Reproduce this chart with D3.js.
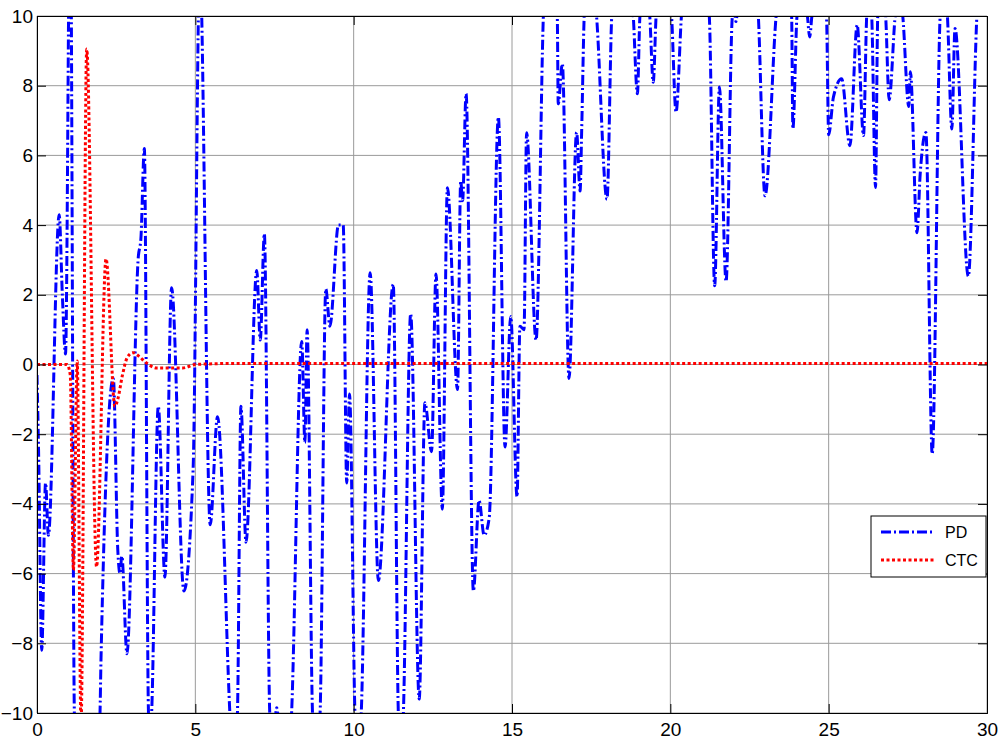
<!DOCTYPE html>
<html>
<head>
<meta charset="utf-8">
<script src="https://cdn.jsdelivr.net/npm/d3@7"></script>
<style>
    body { margin: 0; background: #fff; }
    text { font-family: "Liberation Sans", Arial, sans-serif; }
</style>
</head>
<body>
<div id="chart"></div>
<script>
// PD response (values past +/-10 are clipped)
const pdX = [0, 0.05, 0.15, 0.27, 0.36, 0.70, 0.80, 0.90, 1.05, 1.18, 1.55, 1.99, 2.02, 2.41, 2.55, 2.62, 2.68, 2.84,
    3.20, 3.28, 3.39, 3.52, 3.57, 3.62, 3.83, 4.04, 4.25, 4.64, 4.93, 5.14, 5.47, 5.70, 6.09, 6.20, 6.33, 6.44,
    6.60, 6.94, 7.05, 7.18, 7.35, 7.45, 7.57, 7.80, 8.04, 8.36, 8.46, 8.53, 8.70, 8.82, 8.94, 9.12, 9.25, 9.52,
    9.67, 9.78, 9.87, 10.04, 10.14, 10.24, 10.52, 10.78, 11.25, 11.41, 11.50, 11.57, 11.80, 12.07, 12.25, 12.46,
    12.60, 12.80, 12.96, 13.28, 13.38, 13.44, 13.55, 13.78, 13.96, 14.12, 14.28, 14.57, 14.78, 14.96, 15.16,
    15.25, 15.38, 15.46, 15.76, 15.99, 16.20, 16.43, 16.46, 16.59, 16.80, 17.04, 17.15, 17.20, 17.28, 17.45,
    17.67, 18.00, 18.15, 18.50, 18.83, 18.96, 19.04, 19.20, 19.35, 19.46, 19.55, 19.80, 20.04, 20.18, 20.35,
    20.80, 21.23, 21.40, 21.55, 21.76, 21.96, 22.02, 22.07, 22.15, 22.50, 22.78, 22.99, 23.34, 23.60, 23.83,
    23.87, 24.00, 24.20, 24.33, 24.40, 24.47, 24.70, 24.93, 25.00, 25.15, 25.41, 25.67, 25.90, 26.10, 26.20,
    26.28, 26.36, 26.48, 26.55, 26.68, 26.80, 26.91, 27.10, 27.22, 27.34, 27.53, 27.58, 27.79, 27.89, 28.07,
    28.27, 28.52, 28.63, 28.75, 28.89, 28.99, 29.41, 29.68, 30];
const pdY = [-0.3, -2.5, -8.2, -3.4, -4.9, 4.3, 2.0, 0.3, 14, -10, -18, -10, -8.5, -0.4, -5.3, -6.0, -5.5, -8.3,
    3.1, 3.6, 6.2, -10, -10.8, -10, -1.2, -6.1, 2.2, -6.5, -3.0, 11.5, -4.6, -1.5, -10, -12, -10, -1.2,
    -5.1, 2.7, 0.7, 3.75, -10, -11, -9.85, -13, -10, 0.66, -2.24, 1.0, -10, -11.5, -10, 2.17, 1.1, 4.0,
    4.0, -3.4, -0.85, -10, -11.5, -10, 2.63, -6.2, 2.3, -10, -11.5, -10, 1.45, -9.6, -1.1, -2.5,
    2.6, -4.15, 5.07, -0.72, 5.27, 4.7, 7.77, -6.5, -3.9, -4.9, -4.4, 7.1, -2.37, 1.38, -3.8,
    1.1, 1.0, 6.65, 0.7, 10, 13, 10, 7.48, 8.63, -0.4, 6.66, 4.98, 6.7, 10, 12,
    10, 4.74, 10, 13, 10, 7.77, 10, 11, 10, 8.1, 10, 12, 10, 7.24, 10,
    13, 10, 2.26, 7.96, 2.38, 10, 10.2, 9.84, 10.5, 13, 10, 4.84, 10, 12, 10,
    6.76, 10, 11, 10, 9.4, 10, 11, 10, 6.59, 7.67, 8.2, 6.28, 9.74, 6.57, 10,
    10.8, 10, 5.08, 10, 11, 10, 7.6, 10, 10.8, 10, 7.4, 8.4, 3.78, 5.46, 6.66,
    -2.57, 10, 11, 10, 6.76, 9.64, 2.53, 10, 13];

// CTC response
const ctcX = [0, 0.95, 1.05, 1.15, 1.27, 1.39, 1.57, 1.88, 2.18, 2.46, 2.55, 2.70, 2.85, 3.03, 3.20, 3.45, 3.78,
    4.60, 5.00, 6.20, 30];
const ctcY = [0, 0, -0.3, -5.9, 0.1, -10.3, 9.05, -5.8, 3.03, -1.2, -1.0, -0.3, 0.2, 0.34, 0.25, 0.05, -0.1,
    -0.1, 0, 0.03, 0.03];

const xTicks = [0, 5, 10, 15, 20, 25, 30];
const yTicks = [-10, -8, -6, -4, -2, 0, 2, 4, 6, 8, 10];
const seriesNames = ['PD', 'CTC'];

const width = 998;
const height = 740;
const margin = { top: 16, right: 11, bottom: 27, left: 37 };
const innerW = width - margin.left - margin.right;
const innerH = height - margin.top - margin.bottom;

const svg = d3.select('#chart')
    .append('svg')
    .attr('width', width)
    .attr('height', height);

const g = svg.append('g')
    .attr('transform', `translate(${margin.left}, ${margin.top})`);

const x = d3.scaleLinear().domain([0, 30]).range([0, innerW]);
const y = d3.scaleLinear().domain([-10, 10]).range([innerH, 0]);

// Grid
g.append('g')
    .selectAll('line')
    .data(xTicks)
    .enter()
    .append('line')
    .attr('x1', d => x(d)).attr('x2', d => x(d))
    .attr('y1', 0).attr('y2', innerH)
    .style('stroke', '#9a9a9a')
    .style('stroke-width', '1px');

g.append('g')
    .selectAll('line')
    .data(yTicks)
    .enter()
    .append('line')
    .attr('x1', 0).attr('x2', innerW)
    .attr('y1', d => y(d)).attr('y2', d => y(d))
    .style('stroke', '#9a9a9a')
    .style('stroke-width', '1px');

// Clip lines to the axes box
svg.append('defs')
    .append('clipPath')
    .attr('id', 'plot-clip')
    .append('rect')
    .attr('width', innerW)
    .attr('height', innerH);

const line = d3.line()
    .x(d => x(d[0]))
    .y(d => y(d[1]))
    .curve(d3.curveMonotoneX);

const pdData = pdX.map((v, i) => [v, pdY[i]]);
const ctcData = ctcX.map((v, i) => [v, ctcY[i]]);

const lines = g.append('g').attr('clip-path', 'url(#plot-clip)');

lines.append('path')
    .datum(pdData)
    .attr('d', line)
    .style('fill', 'none')
    .style('stroke', '#0000ff')
    .style('stroke-width', '3px')
    .style('stroke-dasharray', '10,3,2,3');

lines.append('path')
    .datum(ctcData)
    .attr('d', line)
    .style('fill', 'none')
    .style('stroke', '#ff0000')
    .style('stroke-width', '3px')
    .style('stroke-dasharray', '3,2.5');

// Axes (ticks inside, box on)
const tickLen = 9;
g.append('g')
    .attr('transform', `translate(0, ${innerH})`)
    .call(d3.axisBottom(x).tickValues(xTicks).tickSize(-tickLen).tickPadding(10));
g.append('g')
    .call(d3.axisTop(x).tickValues(xTicks).tickSize(-tickLen).tickFormat(''));
g.append('g')
    .call(d3.axisLeft(y).tickValues(yTicks).tickSize(-tickLen).tickPadding(4));
g.append('g')
    .attr('transform', `translate(${innerW}, 0)`)
    .call(d3.axisRight(y).tickValues(yTicks).tickSize(-tickLen).tickFormat(''));

g.selectAll('.domain').style('stroke', '#000');
g.selectAll('.tick line').style('stroke', '#000');
g.selectAll('.tick text')
    .style('font-size', '19px')
    .style('fill', '#000');

// Legend
const legend = g.append('g')
    .attr('transform', `translate(${871 - margin.left}, ${516 - margin.top})`);

legend.append('rect')
    .attr('width', 115)
    .attr('height', 61)
    .style('fill', '#fff')
    .style('stroke', '#000')
    .style('stroke-width', '1px');

const legendStyles = [
    { color: '#0000ff', dash: '10,3,2,3' },
    { color: '#ff0000', dash: '3,2.5' }
];

seriesNames.forEach((name, i) => {
    const row = legend.append('g').attr('transform', `translate(0, ${16 + i * 28})`);
    row.append('line')
        .attr('x1', 10).attr('x2', 64)
        .style('stroke', legendStyles[i].color)
        .style('stroke-width', '3px')
        .style('stroke-dasharray', legendStyles[i].dash);
    row.append('text')
        .attr('x', 74)
        .attr('dy', '0.36em')
        .text(name)
        .style('font-size', '16px')
        .style('fill', '#000');
});
</script>
</body>
</html>
